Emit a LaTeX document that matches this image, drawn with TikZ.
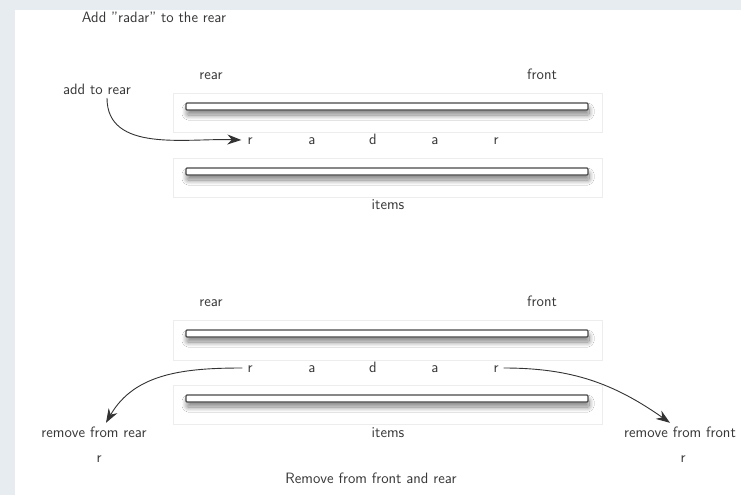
\documentclass[tikz,border=0pt]{standalone}
\usetikzlibrary{arrows.meta,shadows.blur}
\definecolor{bgcol}{RGB}{230,236,240}
\definecolor{txt}{RGB}{55,55,55}
\tikzset{
  lbl/.style={font=\sffamily\fontsize{15}{18}\selectfont, text=txt, inner sep=1pt, text height=11pt, text depth=3pt},
  framebox/.style={draw=black!7, fill=white, line width=0.6pt},
  bar/.style={draw=black!72, fill=white, line width=1.3pt, rounded corners=1pt,
    blur shadow={shadow xshift=1pt, shadow yshift=-5pt, shadow blur radius=5pt, shadow opacity=50, shadow blur steps=25}},
  conn/.style={draw=black!80, line width=0.9pt, -{Stealth[length=14pt,width=10pt]}}
}
\begin{document}
\begin{tikzpicture}[x=1pt,y=-1pt]
\fill[bgcol] (0,0) rectangle (741,495);
\fill[white] (15,10) rectangle (741,495);
\useasboundingbox (0,0) rectangle (741,495);

% ---------- top section ----------
\node[lbl] (title1) at (154,19) {Add "radar" to the rear};
\node[lbl] (rear1) at (211,75) {rear};
\node[lbl] (front1) at (542,75) {front};
\node[lbl] (addrear) at (97,90) {add to rear};

\draw[framebox] (173,93) rectangle (602,132);
\draw[bar] (186,103) rectangle (588,110);
\draw[framebox] (173,158) rectangle (602,197);
\draw[bar] (186,168) rectangle (588,175);

\node[lbl] (r1) at (250,140) {r};
\node[lbl] (a1) at (312,140) {a};
\node[lbl] (d1) at (373,140) {d};
\node[lbl] (a2) at (435,140) {a};
\node[lbl] (r2) at (496,140) {r};
\node[lbl] (items1) at (388,205) {items};

\coordinate (s1) at (107,98);
\draw[conn] (s1) to[out=-90,in=178] ([xshift=-5pt]r1.west);

% ---------- bottom section ----------
\node[lbl] (rear2) at (211,302) {rear};
\node[lbl] (front2) at (542,302) {front};

\draw[framebox] (173,320) rectangle (602,360);
\draw[bar] (186,330) rectangle (588,337);
\draw[framebox] (173,385) rectangle (602,424);
\draw[bar] (186,395) rectangle (588,402);

\node[lbl] (r3) at (250,368) {r};
\node[lbl] (a3) at (312,368) {a};
\node[lbl] (d2) at (373,368) {d};
\node[lbl] (a4) at (435,368) {a};
\node[lbl] (r4) at (496,368) {r};
\node[lbl] (items2) at (388,433) {items};

\node[lbl] (remrear) at (94,433) {remove from rear};
\node[lbl] (rr) at (99,458) {r};
\node[lbl] (remfront) at (680,433) {remove from front};
\node[lbl] (rf) at (683,458) {r};
\node[lbl] (title2) at (371,479) {Remove from front and rear};

\draw[conn] ([xshift=-4pt]r3.west) to[out=180,in=60] ([xshift=12pt,yshift=2pt]remrear.north);
\draw[conn] ([xshift=4pt]r4.east) to[out=0,in=145] ([xshift=-10pt,yshift=2pt]remfront.north);
\end{tikzpicture}
\end{document}
